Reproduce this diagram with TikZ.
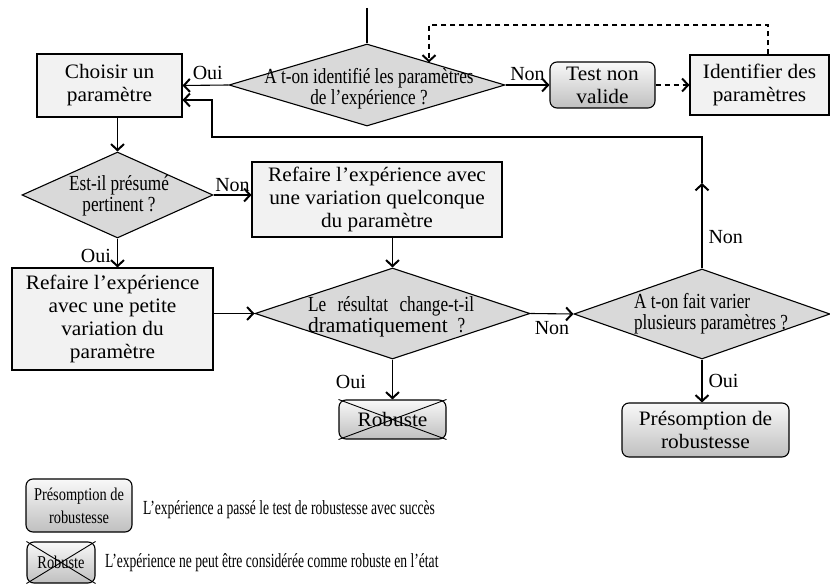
\documentclass[tikz,border=0pt]{standalone}
\usepackage{fontspec}
\setmainfont{Liberation Serif}[FakeStretch=1.04]
\newfontfamily\plain{Liberation Serif}
\newfontfamily\cond{Liberation Serif}[FakeStretch=0.8]
\newfontfamily\condleg{Liberation Serif}[FakeStretch=0.68]
\usetikzlibrary{arrows.meta,shapes.geometric}
\definecolor{boxfill}{HTML}{F2F2F2}
\definecolor{diafill}{HTML}{D9D9D9}
\tikzset{
  base/.style={line width=1.1pt, draw=black, inner sep=0pt, align=center},
  rectbox/.style={base, rectangle, fill=boxfill, font=\fontsize{20.5}{23}\selectfont},
  roundbox/.style={base, rectangle, rounded corners=7pt, top color=white!95!gray, bottom color=gray!50, font=\fontsize{20.5}{23}\selectfont},
  dia/.style={base, diamond, fill=diafill},
  diatext/.style={inner sep=0pt, align=center, font=\cond\fontsize{21.5}{21}\selectfont},
  lab/.style={inner sep=0pt, font=\plain\fontsize{20}{22}\selectfont},
  arr/.style={line width=1.1pt, -{Straight Barb[length=6pt,width=13pt,line width=2pt]}},
  darr/.style={arr, dash pattern=on 5pt off 4pt},
}
\begin{document}
\begin{tikzpicture}[x=1pt,y=-1pt]
\useasboundingbox (0,0) rectangle (830,588);

% nodes
\node[dia, minimum width=276pt, minimum height=82pt] (d1) at (367,85) {};
\node[diatext] (d1t) at (369,89) {A t-on identifié les paramètres\\de l’expérience ?};
\node[rectbox, minimum width=145pt, minimum height=63pt] (choisir) at (109.5,85.5) {Choisir un\\paramètre};
\node[roundbox, minimum width=105pt, minimum height=46pt] (test) at (602.5,85) {Test non\\valide};
\node[rectbox, minimum width=139pt, minimum height=60pt] (ident) at (759.5,85) {Identifier des\\paramètres};

\node[dia, minimum width=191pt, minimum height=86pt] (d2) at (117.5,195) {};
\node[diatext] (d2t) at (119,196) {Est-il présumé\\pertinent ?};
\node[rectbox, minimum width=250pt, minimum height=75pt] (quel) at (377,199.5) {Refaire l’expérience avec\\une variation quelconque\\du paramètre};

\node[rectbox, minimum width=201pt, minimum height=102pt] (petite) at (112.5,319) {Refaire l’expérience\\avec une petite\\variation du\\paramètre};
\node[dia, minimum width=275pt, minimum height=91pt] (d3) at (392.5,313.5) {};
\node[diatext, align=left, font=\cond\fontsize{21.5}{19}\selectfont] (d3t) at (391,317) {\makebox[166pt][s]{Le\hfill résultat\hfill change-t-il}\\{\plain dramatiquement}\hspace{10pt}?};
\node[dia, minimum width=256pt, minimum height=90pt] (d4) at (702,314) {};
\node[diatext, align=left] (d4t) at (711,314) {A t-on fait varier\\plusieurs paramètres ?};

\node[roundbox, minimum width=107pt, minimum height=39pt] (rob) at (392.5,419.5) {Robuste};
\draw[line width=0.9pt] (rob.north west) -- (rob.south east) (rob.south west) -- (rob.north east);
\node[roundbox, minimum width=167pt, minimum height=54pt] (pres) at (705.5,430) {Présomption de\\robustesse};

% legend
\node[roundbox, minimum width=106pt, minimum height=53pt, font=\cond\fontsize{18}{23}\selectfont] (lpres) at (79,505.5) {Présomption de\\robustesse};
\node[roundbox, minimum width=68pt, minimum height=41pt, font=\cond\fontsize{18}{22}\selectfont] (lrob) at (61,562.5) {Robuste};
\draw[line width=0.9pt] (lrob.north west) -- (lrob.south east) (lrob.south west) -- (lrob.north east);
\node[lab, anchor=west, font=\condleg\fontsize{20}{22}\selectfont] (lt1) at (143,510) {L’expérience a passé le test de robustesse avec succès};
\node[lab, anchor=west, font=\condleg\fontsize{20}{22}\selectfont] (lt2) at (105,563) {L’expérience ne peut être considérée comme robuste en l’état};

% connectors
\coordinate (top) at (367,8);
\draw[line width=2.8pt] (top) -- (d1.north);
\draw[arr] (d1.west) -- (choisir.east) node[lab, pos=0.45, above=5pt] (l1) {Oui};
\draw[arr] (d1.east) -- (test.west) node[lab, pos=0.5, above=4pt] (l2) {Non};
\draw[darr] (test.east) -- (ident.west);
\coordinate (dtop) at (768,25);
\coordinate (d1in) at (429,62.5);
\draw[darr] (ident.north -| dtop) -- (dtop) -| (d1in);

\draw[arr] (choisir.south -| d2.north) -- (d2.north);
\draw[arr] (d2.east) -- (d2.east -| quel.west) node[lab, pos=0.5, above=3pt] (l3) {Non};
\draw[arr] (d2.south) -- (petite.north -| d2.south) node[lab, pos=0.6, left=6pt] (l4) {Oui};
\draw[arr] (quel.south -| d3.north) -- (d3.north);
\draw[arr] (petite.east |- d3.west) -- (d3.west);
\draw[arr] (d3.east) -- (d4.west) node[lab, pos=0.5, below=7pt] (l5) {Non};
\draw[arr] (d3.south) -- (rob.north) node[lab, pos=0.55, left=26pt] (l6) {Oui};
\draw[arr] (d4.south) -- (d4.south |- pres.north) node[lab, pos=0.5, right=6pt] (l7) {Oui};

\coordinate (up) at (702,183);
\coordinate (c1) at (702,137);
\coordinate (c2) at (212,137);
\coordinate (c3) at (212,100);
\draw[arr] (d4.north) -- (up) node[lab, pos=0.37, right=6pt] (l8) {Non};
\draw[arr] (up) -- (c1) -- (c2) -- (c3) -- (c3 -| choisir.east);
\end{tikzpicture}
\end{document}
